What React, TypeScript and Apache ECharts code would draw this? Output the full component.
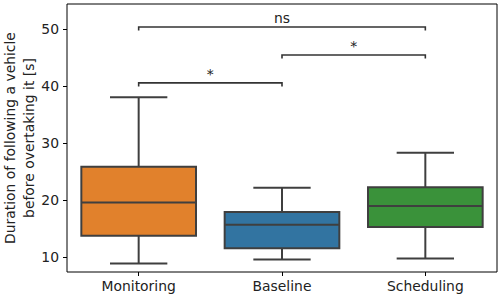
import React, { useEffect, useRef } from "react";
import * as echarts from "echarts";

const categories = ["Monitoring", "Baseline", "Scheduling"];
const whiskerLow = [8.9, 9.6, 9.8];
const q1 = [13.8, 11.6, 15.3];
const median = [19.6, 15.7, 19.0];
const q3 = [25.9, 17.95, 22.3];
const whiskerHigh = [38.1, 22.2, 28.35];
const boxColors = ["#e1812c", "#3274a1", "#3a923a"];

const bracketFrom = [0, 1, 0];
const bracketTo = [1, 2, 2];
const bracketY = [40.6, 45.5, 50.4];
const bracketLabel = ["*", "*", "ns"];

const yTicks = [10, 20, 30, 40, 50];
const yMin = 7.42;
const yMax = 54.44;

const FONT = "DejaVu Sans";
const FS = 13.9;
const LINE = "#3f3f3f";

export default function App() {
  const ref = useRef<HTMLDivElement>(null);
  useEffect(() => {
    document.body.style.margin = "0";
    const chart = echarts.init(ref.current!, null, { renderer: "svg" });
    const boxData = categories.map((_, i) => [i, whiskerLow[i], q1[i], median[i], q3[i], whiskerHigh[i]]);
    const bracketData = bracketFrom.map((f, i) => [f, bracketTo[i], bracketY[i], i]);
    chart.setOption({
      animation: false,
      textStyle: { fontFamily: FONT },
      grid: {
        left: 67,
        right: 3,
        top: 4,
        bottom: 28,
        outerBoundsMode: "none",
        containLabel: false,
        show: true,
        borderColor: "#000",
        borderWidth: 1,
        backgroundColor: "transparent",
      },
      xAxis: {
        type: "category",
        data: categories,
        axisLine: { show: false },
        axisTick: { show: true, alignWithLabel: true, length: 4, lineStyle: { color: "#000" } },
        axisLabel: { color: "#222", fontSize: FS, fontFamily: FONT, margin: 7 },
        splitLine: { show: false },
      },
      yAxis: {
        type: "value",
        min: yMin,
        max: yMax,
        axisLine: { show: false },
        axisTick: { show: true, length: 4, lineStyle: { color: "#000" }, customValues: yTicks },
        axisLabel: { color: "#222", fontSize: FS, fontFamily: FONT, margin: 8, customValues: yTicks },
        splitLine: { show: false },
        name: "Duration of following a vehicle\nbefore overtaking it [s]",
        nameLocation: "middle",
        nameRotate: 90,
        nameGap: 29,
        nameMoveOverlap: false,
        nameTextStyle: { color: "#222", fontSize: FS, fontFamily: FONT, lineHeight: 19 },
      },
      series: [
        {
          type: "custom",
          data: boxData,
          encode: { x: 0, y: [1, 2, 3, 4, 5] },
          renderItem: (params: any, api: any) => {
            const idx = api.value(0);
            const bw = api.size([1, 0])[0] * 0.8;
            const cw = bw / 2;
            const pLow = api.coord([idx, api.value(1)]);
            const pQ1 = api.coord([idx, api.value(2)]);
            const pMed = api.coord([idx, api.value(3)]);
            const pQ3 = api.coord([idx, api.value(4)]);
            const pHigh = api.coord([idx, api.value(5)]);
            const cx = pMed[0];
            const ls = { stroke: LINE, lineWidth: 2 };
            return {
              type: "group",
              children: [
                { type: "line", shape: { x1: cx, y1: pLow[1], x2: cx, y2: pQ1[1] }, style: ls },
                { type: "line", shape: { x1: cx, y1: pQ3[1], x2: cx, y2: pHigh[1] }, style: ls },
                { type: "line", shape: { x1: cx - cw / 2, y1: pLow[1], x2: cx + cw / 2, y2: pLow[1] }, style: ls },
                { type: "line", shape: { x1: cx - cw / 2, y1: pHigh[1], x2: cx + cw / 2, y2: pHigh[1] }, style: ls },
                {
                  type: "rect",
                  shape: { x: cx - bw / 2, y: pQ3[1], width: bw, height: pQ1[1] - pQ3[1] },
                  style: { fill: boxColors[idx], stroke: LINE, lineWidth: 2 },
                },
                { type: "line", shape: { x1: cx - bw / 2, y1: pMed[1], x2: cx + bw / 2, y2: pMed[1] }, style: ls },
              ],
            };
          },
        },
        {
          type: "custom",
          data: bracketData,
          encode: { x: [0, 1], y: 2 },
          renderItem: (params: any, api: any) => {
            const a = api.coord([api.value(0), api.value(2)]);
            const b = api.coord([api.value(1), api.value(2)]);
            const li = api.value(3);
            const ls = { stroke: "#333", lineWidth: 1.6, fill: "none" };
            return {
              type: "group",
              children: [
                {
                  type: "polyline",
                  shape: { points: [[a[0], a[1] + 3.5], [a[0], a[1]], [b[0], b[1]], [b[0], b[1] + 3.5]] },
                  style: ls,
                },
                {
                  type: "text",
                  x: (a[0] + b[0]) / 2,
                  y: a[1] - 2,
                  style: {
                    text: bracketLabel[li],
                    fill: "#222",
                    font: `${FS}px ${FONT}`,
                    align: "center",
                    verticalAlign: "bottom",
                  },
                },
              ],
            };
          },
        },
      ],
    });
    return () => chart.dispose();
  }, []);
  return <div ref={ref} style={{ width: 500, height: 300 }} />;
}
